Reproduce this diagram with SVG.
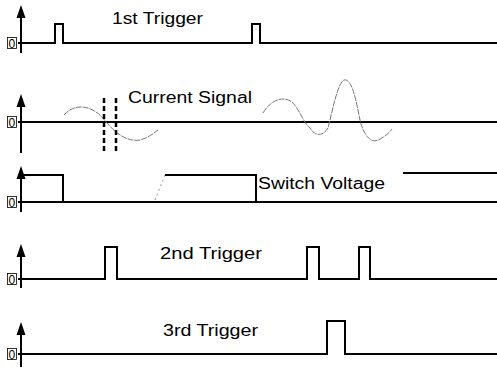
<svg xmlns="http://www.w3.org/2000/svg" width="497" height="368" viewBox="0 0 497 368">
<defs>
<path id="ah" d="M-4.5,13 L0,0 L4.5,13 Z" fill="#000"/>
<style>
.ax{stroke:#000;stroke-width:2;fill:none}
.base{stroke:#000;stroke-width:2;fill:none}
.sig{stroke:#000;stroke-width:2;fill:none}
.wave{stroke:#777;stroke-width:1;fill:none;stroke-dasharray:6 1}
.dash{stroke:#000;stroke-width:2.5;fill:none;stroke-dasharray:5 3}
.lbl{font-family:"Liberation Sans",Arial,sans-serif;font-size:16px;fill:#000}
.zero{font-family:"Liberation Sans",Arial,sans-serif;font-size:12px;fill:#000}
.zbox{fill:none;stroke:#000;stroke-width:0.8}
</style>
</defs>
<rect width="497" height="368" fill="#fff"/>

<g id="trigger1">
<line class="ax" x1="21" y1="53" x2="21" y2="12"/>
<use href="#ah" x="21" y="5"/>
<rect class="zbox" x="7.5" y="37.5" width="9" height="11"/>
<text class="zero" x="8.5" y="47.5">0</text>
<polyline class="base" points="18,43 55,43 55,24 63,24 63,43 252,43 252,24 260,24 260,43 497,43"/>
<text class="lbl" x="112" y="24" textLength="91" lengthAdjust="spacingAndGlyphs">1st Trigger</text>
</g>

<g id="current">
<line class="ax" x1="21" y1="153" x2="21" y2="100"/>
<use href="#ah" x="21" y="94"/>
<rect class="zbox" x="7.5" y="116.5" width="9" height="11"/>
<text class="zero" x="8.5" y="126.5">0</text>
<line class="base" x1="18" y1="122" x2="497" y2="122"/>
<path class="wave" d="M64,115 C72,106 84,104 96,112 C102,116 104,120 108,124 C118,136 130,142 140,140 C148,138 154,133 158,130"/>
<path class="wave" d="M263,113 C270,101 282,95 292,102 C300,110 304,124 310,128 C316,138 324,135 328,128 C332,112 338,82 344,80 C352,78 356,100 360,120 C366,144 376,142 380,139 C386,136 390,132 392,129"/>
<line class="dash" x1="104" y1="98" x2="104" y2="154"/>
<line class="dash" x1="116" y1="98" x2="116" y2="154"/>
<text class="lbl" x="128" y="103" textLength="124" lengthAdjust="spacingAndGlyphs">Current Signal</text>
</g>

<g id="switch">
<line class="ax" x1="21" y1="212" x2="21" y2="172"/>
<use href="#ah" x="21" y="166"/>
<rect class="zbox" x="7.5" y="196.5" width="9" height="11"/>
<text class="zero" x="8.5" y="206.5">0</text>
<polyline class="sig" points="21,175 63,175 63,202"/>
<line class="base" x1="18" y1="202" x2="497" y2="202"/>
<line x1="155" y1="200" x2="165" y2="175" stroke="#999" stroke-width="1" stroke-dasharray="2 3"/>
<polyline class="sig" points="165,175 256,175 256,202"/>
<line class="sig" x1="403" y1="173" x2="497" y2="173"/>
<text class="lbl" x="258" y="189" textLength="127" lengthAdjust="spacingAndGlyphs">Switch Voltage</text>
</g>

<g id="trigger2">
<line class="ax" x1="21" y1="288" x2="21" y2="250"/>
<use href="#ah" x="21" y="244"/>
<rect class="zbox" x="7.5" y="273.5" width="9" height="11"/>
<text class="zero" x="8.5" y="283.5">0</text>
<polyline class="base" points="18,279 105,279 105,247 117,247 117,279 307,279 307,247 319,247 319,279 359,279 359,247 370,247 370,279 497,279"/>
<text class="lbl" x="160" y="259" textLength="102" lengthAdjust="spacingAndGlyphs">2nd Trigger</text>
</g>

<g id="trigger3">
<line class="ax" x1="21" y1="367" x2="21" y2="328"/>
<use href="#ah" x="21" y="322"/>
<rect class="zbox" x="7.5" y="348.5" width="9" height="11"/>
<text class="zero" x="8.5" y="358.5">0</text>
<polyline class="base" points="18,354 327,354 327,321 345,321 345,354 497,354"/>
<text class="lbl" x="163" y="336" textLength="95" lengthAdjust="spacingAndGlyphs">3rd Trigger</text>
</g>
</svg>
